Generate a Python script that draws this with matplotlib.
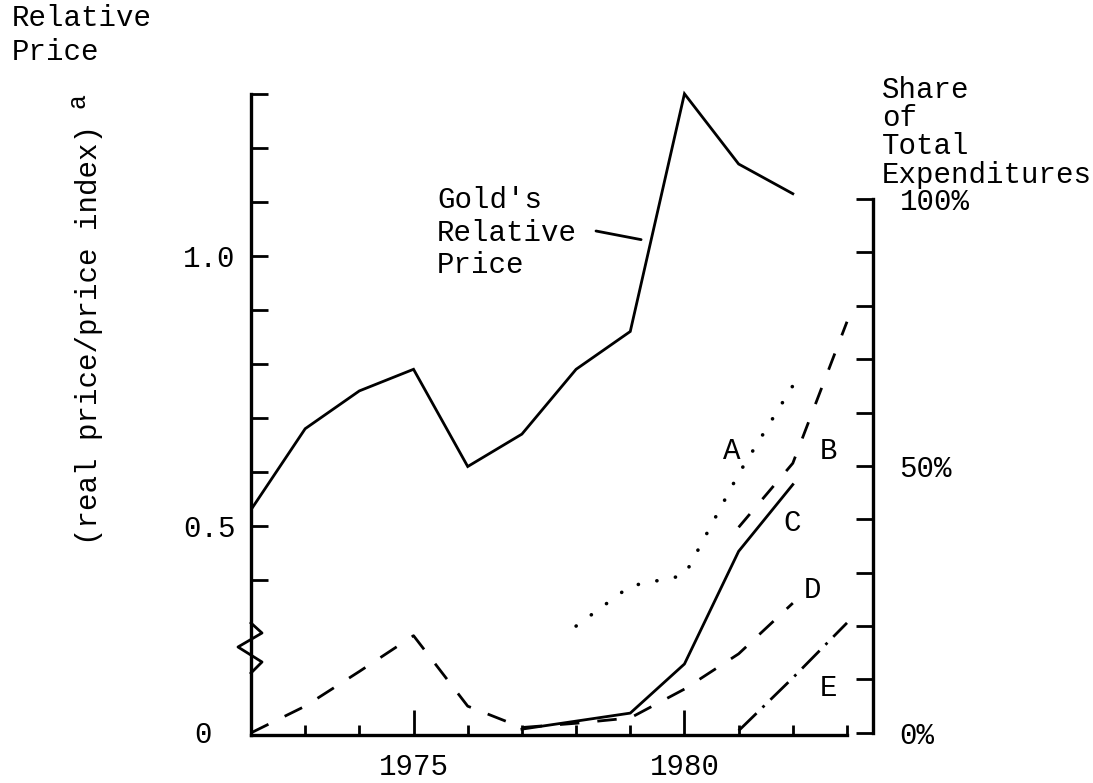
import matplotlib
matplotlib.use("Agg")
import matplotlib.pyplot as plt

plt.rcParams['font.family'] = ['Liberation Mono', 'DejaVu Sans Mono']
plt.rcParams['lines.scale_dashes'] = False

# gold's relative price (left scale)
gold_years = [1972, 1973, 1974, 1975, 1976, 1977, 1978, 1979, 1980, 1981, 1982]
gold_price = [0.53, 0.68, 0.75, 0.79, 0.61, 0.67, 0.79, 0.86, 1.30, 1.17, 1.115]

# shares of total expenditures, percent (right scale)
a_years = [1978, 1979, 1980, 1981, 1982]
a_share = [20, 27.5, 29.5, 48.5, 65]
b_years = [1981, 1982, 1983]
b_share = [38.5, 50.5, 77]
c_years = [1977, 1978, 1979, 1980, 1981, 1982]
c_share = [0.7, 2.2, 3.7, 12.9, 34, 46.5]
d_years = [1972, 1973, 1974, 1975, 1976, 1977, 1978, 1979, 1980, 1981, 1982]
d_share = [0, 5, 11.5, 18.2, 5, 1, 1.8, 2.8, 8.2, 14.8, 24.3]
e_years = [1981, 1982, 1983]
e_share = [0.4, 10.3, 20.6]

year_labels = [1975, 1980]
price_labels = [0.5, 1.0]
share_labels = [0, 50, 100]

W, H = 1093, 783
FS = 21
LW = 2.0


def fx(px):
    return px / W


def fy(py):
    return 1 - py / H


fig = plt.figure(figsize=(W / 100, H / 100), dpi=100)
ax = fig.add_axes([fx(251), fy(735), fx(873) - fx(251), fy(90) - fy(735)])
axs = ax.twinx()

# gold line on the left (broken) scale
ax.plot(gold_years, gold_price, color='black', lw=LW, solid_joinstyle='miter')
ax.set_xlim(1972, 1983.48)
ax.set_ylim(0.113, 1.307)

# share lines on the right scale
axs.plot(a_years, a_share, color='black', lw=2.6, dashes=(0.1, 13.5),
         dash_capstyle='round')
axs.plot(b_years, b_share, color='black', lw=LW, dashes=(12.5, 14))
axs.plot(c_years, c_share, color='black', lw=LW)
axs.plot(d_years, d_share, color='black', lw=LW, dashes=(14, 13))
axs.plot(e_years, e_share, color='black', lw=LW, dashes=(18, 6, 2, 6))
axs.set_ylim(-0.4, 120.4)

# spines
for a in (ax, axs):
    a.spines['top'].set_visible(False)
ax.spines['right'].set_visible(False)
axs.spines['left'].set_visible(False)
axs.spines['bottom'].set_visible(False)
ax.spines['left'].set_linewidth(2.4)
ax.spines['bottom'].set_linewidth(2.4)
axs.spines['right'].set_linewidth(2.4)
ax.spines['bottom'].set_bounds(1972, 1983)
ax.spines['left'].set_bounds(0.113, 1.3)
axs.spines['right'].set_bounds(0, 100)

# x ticks
ax.set_xticks(year_labels)
ax.set_xticklabels([str(y) for y in year_labels])
ax.set_xticks([y for y in range(1972, 1984) if y not in year_labels], minor=True)
ax.tick_params(axis='x', which='major', direction='in', length=18, width=2,
               pad=13, labelsize=FS)
ax.tick_params(axis='x', which='minor', direction='in', length=7.5, width=2)

# left ticks
ax.set_yticks(price_labels)
ax.set_yticklabels(['%.1f' % v for v in price_labels])
ax.set_yticks([0.4, 0.6, 0.7, 0.8, 0.9, 1.1, 1.2, 1.3], minor=True)
ax.tick_params(axis='y', which='both', direction='in', length=12, width=2)
ax.tick_params(axis='y', which='major', pad=11, labelsize=FS)

# right ticks
axs.set_yticks(share_labels)
axs.set_yticklabels(['%d%%' % v for v in share_labels])
axs.set_yticks([10, 20, 30, 40, 60, 70, 80, 90], minor=True)
axs.tick_params(axis='y', which='both', direction='in', length=12, width=2)
axs.tick_params(axis='y', which='major', pad=19, labelsize=FS)

# zero of the broken left axis and the break mark
fig.text(fx(203), fy(735), '0', fontsize=FS, ha='center', va='center')
brk_x = [fx(251), fx(262), fx(238), fx(262), fx(251)]
brk_y = [fy(623), fy(633), fy(647), fy(662), fy(673)]
fig.add_artist(plt.Line2D(brk_x, brk_y, color='black', lw=2))

# axis titles
for txt, py in [('Relative', 18), ('Price', 52)]:
    fig.text(fx(12), fy(py), txt, fontsize=FS, ha='left', va='center')
for txt, py in [('Share', 90), ('of', 118), ('Total', 146), ('Expenditures', 175)]:
    fig.text(fx(882), fy(py), txt, fontsize=FS, ha='left', va='center')
fig.text(fx(89), fy(335), '(real price/price index)', fontsize=FS,
         rotation=90, ha='center', va='center')
fig.text(fx(77), fy(100), 'a', fontsize=18, rotation=90, ha='center', va='center')

# gold label with pointer
for txt, py in [("Gold's", 200), ('Relative', 233), ('Price', 265)]:
    fig.text(fx(437), fy(py), txt, fontsize=FS, ha='left', va='center')
ax.annotate('', xy=(1979.2, 1.03), xycoords='data',
            xytext=(fx(596), fy(231)), textcoords='figure fraction',
            arrowprops=dict(arrowstyle='-', lw=LW, color='black',
                            shrinkA=0, shrinkB=0))

# series letters
for txt, px, py in [('A', 732, 451), ('B', 829, 451), ('C', 792, 523),
                    ('D', 812, 590), ('E', 829, 688)]:
    fig.text(fx(px), fy(py), txt, fontsize=FS, ha='center', va='center')

plt.savefig('out.png', dpi=100)
